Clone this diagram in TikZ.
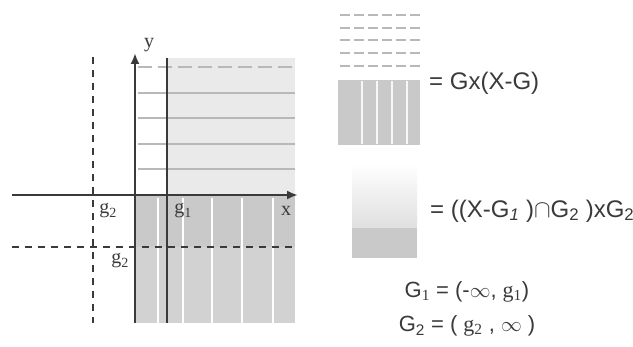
\documentclass[tikz,border=0pt]{standalone}
\usepackage{fontspec}
\setmainfont{Liberation Sans}
\newfontfamily\serf{Liberation Serif}
\usetikzlibrary{arrows.meta}
\definecolor{ink}{HTML}{3A3A3A}
\definecolor{lightfill}{HTML}{EAEAEA}
\definecolor{darkfill}{HTML}{D2D2D2}
\definecolor{darkband}{HTML}{C9C9C9}
\definecolor{gridc}{HTML}{B8B8B8}
\tikzset{
  axis/.style={ink, line width=2.6pt, -{Latex[length=11pt,width=9pt]}},
  gline/.style={ink, line width=2.4pt},
  dline/.style={ink, line width=2pt, dash pattern=on 7pt off 6pt},
  grid line/.style={gridc, line width=1.2pt},
  stripe/.style={white, line width=2.5pt},
  lbl/.style={inner sep=0pt, font=\serf\fontsize{20}{22}\selectfont, text=ink},
  eqn/.style={inner sep=0pt, anchor=west, font=\fontsize{24}{28}\selectfont, text=ink},
  defn/.style={inner sep=0pt, anchor=center, font=\fontsize{22}{26}\selectfont, text=ink}
}
\begin{document}
\begin{tikzpicture}[x=1pt,y=-1pt]
\useasboundingbox (0,0) rectangle (633,347);
\fill[white] (0,0) rectangle (633,347);

% --- shaded regions of the plot
\fill[lightfill] (167,58) rectangle (295,195);
\fill[darkfill] (135,195) rectangle (295,323);
\fill[darkband] (135,195) rectangle (295,247);
\foreach \x in {158,183,212,242,273} \draw[stripe] (\x,198) -- (\x,323);
\foreach \y in {93,118,144,169} \draw[grid line] (138,\y) -- (295,\y);
\draw[grid line, dash pattern=on 14pt off 6pt] (138,67) -- (295,67);

% --- coordinates
\coordinate (xs) at (12,195);
\coordinate (xe) at (298,195);
\coordinate (ys) at (135,323);
\coordinate (ye) at (135,53);
\coordinate (g1t) at (167,58);
\coordinate (g1b) at (167,323);
\coordinate (g2t) at (93,57);
\coordinate (g2b) at (93,323);
\coordinate (h2l) at (12,247);
\coordinate (h2r) at (295,247);

% --- lines
\draw[dline] (g2t) -- (g2b);
\draw[dline] (h2l) -- (h2r);
\draw[gline] (g1t) -- (g1b);
\draw[axis] (ys) -- (ye);
\draw[axis] (xs) -- (xe);

% --- axis labels
\node[lbl] (ly) at (149,45) {y};
\node[lbl] (lx) at (286,211) {x};
\node[lbl] (lg2a) at (108,211) {g\textsubscript{2}};
\node[lbl] (lg1) at (183,211) {g\textsubscript{1}};
\node[lbl] (lg2b) at (120,261) {g\textsubscript{2}};

% --- legend swatch 1
\foreach \y in {15,28,40,53,66} \draw[grid line, dash pattern=on 10pt off 4pt] (340,\y) -- (420,\y);
\fill[darkband] (338,80) rectangle (420,145);
\foreach \x in {362,377,392,407} \draw[white!85!darkband, line width=1.5pt] (\x,81) -- (\x,144);
\node[eqn] (e1) at (429,83) {= Gx(X-G)};

% --- legend swatch 2
\shade[top color=white, bottom color=lightfill!90!gray] (352,163) rectangle (417,228);
\fill[darkband] (352,228) rectangle (417,258);
\node[eqn] (e2) at (430,211) {= ((X-G\textsubscript{\itshape 1} )$\cap$G\textsubscript{2} )xG\textsubscript{2}};

% --- definitions
\node[defn] (d1) at (467,292) {G\textsubscript{\serf 1} = (-$\infty$, {\serf g\textsubscript{1}})};
\node[defn] (d2) at (467,326) {G\textsubscript{2} = ( {\serf g\textsubscript{2}} , $\infty$ )};
\end{tikzpicture}
\end{document}
